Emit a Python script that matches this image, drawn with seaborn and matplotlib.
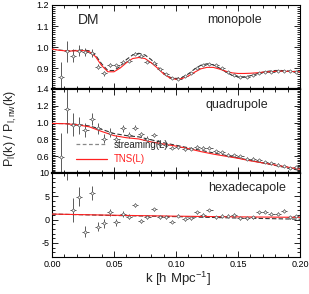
import numpy as np
import pandas as pd
import matplotlib
matplotlib.use("Agg")
import matplotlib.pyplot as plt
from matplotlib.ticker import MultipleLocator, FormatStrFormatter
from matplotlib.lines import Line2D
import seaborn as sns

# ---------------- data ----------------
k_pts = [0.007, 0.012, 0.017, 0.022, 0.027, 0.032, 0.037, 0.042, 0.047, 0.052,
         0.057, 0.062, 0.067, 0.072, 0.077, 0.082, 0.087, 0.092, 0.097, 0.102,
         0.107, 0.112, 0.117, 0.122, 0.127, 0.132, 0.137, 0.142, 0.147, 0.152,
         0.157, 0.162, 0.167, 0.172, 0.177, 0.182, 0.187, 0.192, 0.197]

mono_val = [0.858, 0.979, 0.959, 0.983, 0.975, 0.972, 0.905, 0.874, 0.914, 0.913,
            0.930, 0.935, 0.967, 0.959, 0.930, 0.925, 0.895, 0.870, 0.853, 0.850,
            0.860, 0.875, 0.898, 0.915, 0.920, 0.912, 0.900, 0.882, 0.866, 0.858,
            0.857, 0.866, 0.874, 0.880, 0.883, 0.886, 0.886, 0.885, 0.883]
mono_err = [0.070, 0.050, 0.030, 0.025, 0.020, 0.018, 0.012, 0.010, 0.010, 0.008,
            0.008, 0.007, 0.007, 0.006, 0.006, 0.006, 0.005, 0.005, 0.005, 0.005,
            0.005, 0.005, 0.004, 0.004, 0.004, 0.004, 0.004, 0.004, 0.004, 0.004,
            0.004, 0.004, 0.004, 0.004, 0.004, 0.004, 0.004, 0.004, 0.004]

quad_val = [0.595, 1.156, 0.976, 0.968, 0.910, 1.047, 0.930, 0.810, 0.882, 0.810,
            0.930, 0.850, 0.937, 0.862, 0.810, 0.850, 0.750, 0.733, 0.700, 0.710,
            0.686, 0.690, 0.710, 0.700, 0.700, 0.660, 0.645, 0.615, 0.610, 0.600,
            0.570, 0.570, 0.550, 0.530, 0.520, 0.500, 0.480, 0.460, 0.470]
quad_err = [0.28, 0.28, 0.14, 0.10, 0.08, 0.07, 0.06, 0.05, 0.05, 0.04,
            0.04, 0.035, 0.03, 0.03, 0.03, 0.025, 0.025, 0.02, 0.02, 0.02,
            0.02, 0.02, 0.02, 0.02, 0.018, 0.018, 0.018, 0.018, 0.016, 0.016,
            0.016, 0.015, 0.015, 0.015, 0.015, 0.014, 0.014, 0.014, 0.014]

hexa_val = [np.nan, 13.0, 2.08, 4.93, -2.57, 5.65, -1.50, -0.78, 1.57, -0.57,
            1.22, 0.64, 3.14, -0.28, 0.64, 2.20, 0.50, 0.50, -0.40, 0.86,
            0.08, 0.30, 1.57, 1.10, 2.07, 0.50, 0.86, 0.86, 1.10, 0.30,
            0.30, 0.50, 1.57, 1.70, 1.30, 1.30, 1.90, 0.50, 0.80]
hexa_err = [np.nan, 4.5, 2.5, 2.0, 1.2, 1.5, 1.0, 0.9, 0.8, 0.7,
            0.6, 0.5, 0.5, 0.4, 0.4, 0.4, 0.35, 0.35, 0.35, 0.3,
            0.3, 0.3, 0.3, 0.3, 0.3, 0.3, 0.3, 0.3, 0.3, 0.3,
            0.3, 0.3, 0.3, 0.3, 0.3, 0.3, 0.3, 0.3, 0.3]

k_mono_model = [0.000, 0.005, 0.010, 0.015, 0.020, 0.025, 0.030, 0.035, 0.040, 0.045,
                0.050, 0.055, 0.060, 0.065, 0.070, 0.075, 0.080, 0.085, 0.090, 0.095,
                0.100, 0.105, 0.110, 0.115, 0.120, 0.125, 0.130, 0.135, 0.140, 0.145,
                0.150, 0.155, 0.160, 0.165, 0.170, 0.175, 0.180, 0.185, 0.190, 0.195,
                0.200]
mono_tns = [0.990, 0.985, 0.982, 0.981, 0.982, 0.983, 0.978, 0.955, 0.912, 0.882,
            0.882, 0.900, 0.925, 0.945, 0.950, 0.945, 0.925, 0.900, 0.872, 0.853,
            0.846, 0.850, 0.862, 0.880, 0.896, 0.903, 0.903, 0.895, 0.885, 0.877,
            0.874, 0.874, 0.875, 0.877, 0.880, 0.882, 0.884, 0.885, 0.884, 0.883,
            0.882]
mono_stream = [0.990, 0.986, 0.983, 0.982, 0.984, 0.986, 0.982, 0.962, 0.920, 0.888,
               0.888, 0.908, 0.940, 0.962, 0.970, 0.962, 0.940, 0.908, 0.876, 0.856,
               0.850, 0.855, 0.872, 0.895, 0.913, 0.920, 0.915, 0.900, 0.882, 0.866,
               0.858, 0.858, 0.863, 0.872, 0.880, 0.885, 0.888, 0.888, 0.886, 0.884,
               0.883]

k_model = [0.00, 0.01, 0.02, 0.03, 0.04, 0.05, 0.06, 0.07, 0.08, 0.09, 0.10,
           0.11, 0.12, 0.13, 0.14, 0.15, 0.16, 0.17, 0.18, 0.19, 0.20]
quad_tns = [0.990, 0.987, 0.975, 0.950, 0.895, 0.845, 0.820, 0.805, 0.770, 0.745, 0.720,
            0.690, 0.655, 0.625, 0.600, 0.575, 0.545, 0.520, 0.495, 0.470, 0.445]
quad_stream = [0.990, 0.988, 0.980, 0.960, 0.920, 0.870, 0.845, 0.830, 0.795, 0.760, 0.730,
               0.700, 0.670, 0.640, 0.610, 0.580, 0.550, 0.520, 0.490, 0.460, 0.430]
hexa_tns = [1.20, 1.15, 1.10, 1.05, 1.00, 0.95, 0.91, 0.87, 0.83, 0.79, 0.75,
            0.72, 0.69, 0.66, 0.63, 0.60, 0.58, 0.56, 0.54, 0.52, 0.50]
hexa_stream = [1.20, 1.14, 1.08, 1.02, 0.96, 0.90, 0.85, 0.80, 0.75, 0.70, 0.65,
               0.59, 0.53, 0.47, 0.41, 0.35, 0.30, 0.25, 0.20, 0.15, 0.10]

panel_names = ["monopole", "quadrupole", "hexadecapole"]
ylims = [(0.8, 1.2), (0.4, 1.4), (-8, 10)]
ymajor = [0.1, 0.2, 5]
yminor = [0.01, 0.02, 1]
yfmt = ["%.1f", "%.1f", "%.0f"]

# ---------------- plot ----------------
sns.set_theme(style="ticks")
plt.rcParams["font.family"] = ["Liberation Sans", "DejaVu Sans"]
plt.rcParams["mathtext.fontset"] = "custom"
plt.rcParams["mathtext.rm"] = "Liberation Sans"
plt.rcParams["mathtext.it"] = "Liberation Sans"

fig = plt.figure(figsize=(3.09, 2.94), dpi=100)
gs = fig.add_gridspec(3, 1, left=52/309, right=300/309, top=1-5/294, bottom=1-257/294, hspace=0)
axes = [fig.add_subplot(gs[i]) for i in range(3)]

vals = [mono_val, quad_val, hexa_val]
errs = [mono_err, quad_err, hexa_err]
models = [(k_mono_model, mono_stream, mono_tns), (k_model, quad_stream, quad_tns),
          (k_model, hexa_stream, hexa_tns)]
pt_col = "#5a5a5a"
label_pos = [(0.734, 0.82), (0.746, 0.815), (0.787, 0.82)]

for i, ax in enumerate(axes):
    km, st, tn = models[i]
    dfm = pd.DataFrame({"k": km, "stream": st, "tns": tn})
    sns.lineplot(data=dfm, x="k", y="stream", ax=ax, color="#333333", lw=0.8,
                 linestyle=(0, (4, 2)), zorder=3)
    sns.lineplot(data=dfm, x="k", y="tns", ax=ax, color="#ff2020", lw=0.8, zorder=4)
    ax.errorbar(k_pts, vals[i], yerr=errs[i], xerr=0.0025, fmt="none",
                ecolor=pt_col, elinewidth=0.7, capsize=0, zorder=2)
    dfp = pd.DataFrame({"k": k_pts, "v": vals[i]})
    sns.scatterplot(data=dfp, x="k", y="v", ax=ax, marker="D", s=3,
                    facecolor="white", edgecolor=pt_col, linewidth=0.5, zorder=5)

    ax.set_xlim(0, 0.2)
    ax.set_ylim(*ylims[i])
    ax.xaxis.set_major_locator(MultipleLocator(0.05))
    ax.xaxis.set_minor_locator(MultipleLocator(0.01))
    ax.yaxis.set_major_locator(MultipleLocator(ymajor[i]))
    ax.yaxis.set_minor_locator(MultipleLocator(yminor[i]))
    ax.yaxis.set_major_formatter(FormatStrFormatter(yfmt[i]))
    ax.tick_params(which="both", direction="in", top=True, right=True,
                   labelsize=6.5, width=0.6, pad=2, colors="black")
    ax.tick_params(which="major", length=4)
    ax.tick_params(which="minor", length=2)
    for s in ax.spines.values():
        s.set_linewidth(0.8)
        s.set_color("black")
    ax.set_xlabel("")
    ax.set_ylabel("")
    ax.text(label_pos[i][0], label_pos[i][1], panel_names[i], transform=ax.transAxes,
            ha="center", va="center", fontsize=9)
    if i < 2:
        ax.tick_params(labelbottom=False)
        ax.spines["bottom"].set_linewidth(1.6)

for ax, lo in zip(axes[:2], [0.8, 0.4]):
    ticks = [t for t in ax.get_yticks() if t > lo + 1e-6 and t <= ax.get_ylim()[1] + 1e-6]
    ax.set_yticks(ticks)
axes[2].set_yticks([-5, 0, 5, 10])
axes[2].xaxis.set_major_formatter(FormatStrFormatter("%.2f"))

axes[0].text(0.148, 0.82, "DM", transform=axes[0].transAxes, ha="center",
             va="center", fontsize=10)

handles = [Line2D([], [], color="#888888", lw=0.9, linestyle=(0, (3, 2))),
           Line2D([], [], color="#ff2020", lw=0.9)]
leg = axes[1].legend(handles, ["streaming(L)", "TNS(L)"], loc="lower left",
                     bbox_to_anchor=(0.06, 0.0), frameon=False, fontsize=7,
                     handlelength=3.2, handletextpad=0.7, labelspacing=0.45)
leg.get_texts()[1].set_color("#ff2020")

fig.text(0.036, 0.565, r"P$_{\mathregular{l}}$(k) / P$_{\mathregular{l,nw}}$(k)",
         rotation=90, ha="center", va="center", fontsize=9)
fig.text(0.575, 0.052, r"k [h Mpc$^{\mathregular{-1}}$]", ha="center", va="center",
         fontsize=9.5)

fig.savefig("out.png", dpi=100)
